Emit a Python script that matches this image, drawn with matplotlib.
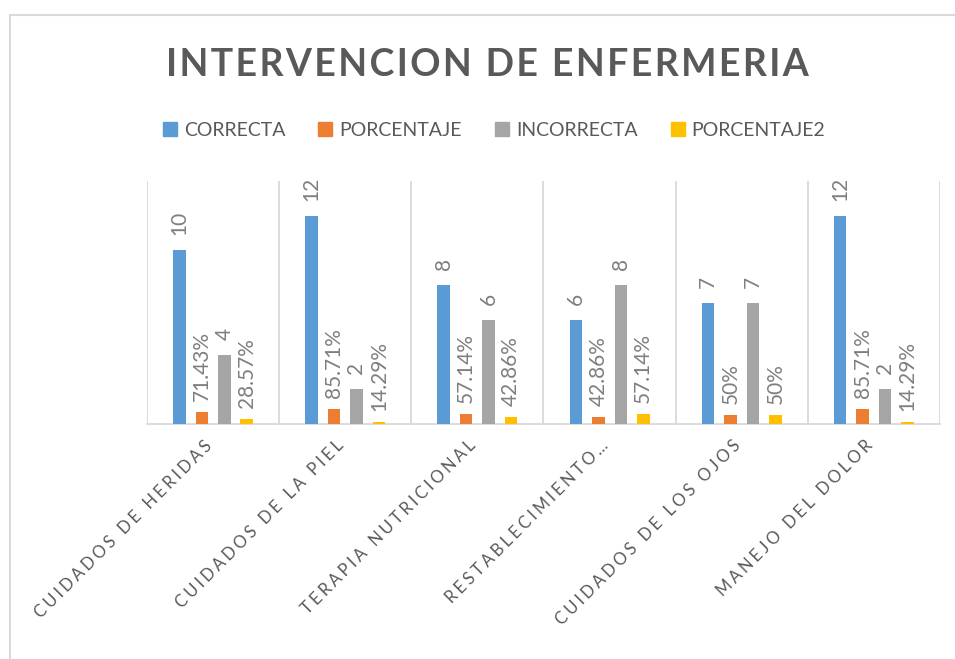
import numpy as np
import matplotlib
matplotlib.use("Agg")
import matplotlib.pyplot as plt
import matplotlib.patches as mpatches

# Chart data
title = "INTERVENCION DE ENFERMERIA"
categories = [
    "CUIDADOS DE HERIDAS",
    "CUIDADOS DE LA PIEL",
    "TERAPIA NUTRICIONAL",
    "RESTABLECIMIENTO…",
    "CUIDADOS DE LOS OJOS",
    "MANEJO DEL DOLOR",
]
correcta = [10, 12, 8, 6, 7, 12]
porcentaje = [0.7143, 0.8571, 0.5714, 0.4286, 0.5, 0.8571]
incorrecta = [4, 2, 6, 8, 7, 2]
porcentaje2 = [0.2857, 0.1429, 0.4286, 0.5714, 0.5, 0.1429]

seriesNames = ["CORRECTA", "PORCENTAJE", "INCORRECTA", "PORCENTAJE2"]
seriesColors = ["#5B9BD5", "#ED7D31", "#A5A5A5", "#FFC000"]
seriesValues = [correcta, porcentaje, incorrecta, porcentaje2]
seriesIsPct = [False, True, False, True]

textColor = "#595959"
labelColor = "#7F7F7F"
lineColor = "#D9D9D9"


def spaced(text, sep):
    # fake letter spacing like the Excel style
    return sep.join(text)


def pctLabel(v):
    s = f"{v * 100:.2f}".rstrip("0").rstrip(".")
    return s + "%"


plt.rcParams["font.family"] = ["Lato", "DejaVu Sans"]

fig = plt.figure(figsize=(9.55, 6.59), dpi=100)
ax = fig.add_axes([0.1539, 0.3566, 0.8304, 0.3687])

x = np.arange(len(categories))
step = 0.17
width = 0.095

for i in range(len(seriesNames)):
    pos = x + (i - 1.5) * step
    ax.bar(pos, seriesValues[i], width, color=seriesColors[i], zorder=3)
    for xb, v in zip(pos, seriesValues[i]):
        label = pctLabel(v) if seriesIsPct[i] else str(v)
        ax.annotate(label, (xb, v), xytext=(0, 11 if seriesIsPct[i] else 15),
                    textcoords="offset pixels", rotation=90, ha="center",
                    va="bottom", fontsize=15, color=labelColor)

ax.set_xlim(-0.5, len(categories) - 0.5)
ax.set_ylim(0, 14)
ax.vlines(np.arange(len(categories) + 1) - 0.5, 0, 14, color=lineColor, lw=1.3, zorder=1)

for side in ["left", "right", "top"]:
    ax.spines[side].set_visible(False)
ax.spines["bottom"].set_color(lineColor)
ax.spines["bottom"].set_linewidth(1.3)
ax.set_xticks([])
ax.set_yticks([])

for xi, cat in zip(x, categories):
    ax.annotate(spaced(cat, "\u2009\u200a"), (xi, 0), xytext=(-4, -19), textcoords="offset pixels",
                rotation=45, rotation_mode="anchor", ha="right", va="center",
                fontsize=12, color=textColor)

# Title
fig.text(0.5105, 1 - 76 / 659, spaced(title, "\u200a"), ha="center", va="baseline",
         fontsize=27, fontweight="bold", color=textColor)

# Legend
handles = [mpatches.Patch(color=c, label=n) for n, c in zip(seriesNames, seriesColors)]
fig.legend(handles=handles, loc="center", bbox_to_anchor=(494 / 955, 1 - 130 / 659),
           ncol=4, frameon=False, fontsize=14, handlelength=0.72, handleheight=0.72,
           handletextpad=0.36, columnspacing=1.7, labelcolor=textColor)

# Outer chart border (cut off at right and bottom in the screenshot)
fig.patches.append(mpatches.Rectangle((10 / 955, -0.1), 1.2, 1.1 - 15 / 659,
                                      transform=fig.transFigure, fill=False,
                                      edgecolor=lineColor, lw=1.5))

fig.savefig("out.png", dpi=100)
